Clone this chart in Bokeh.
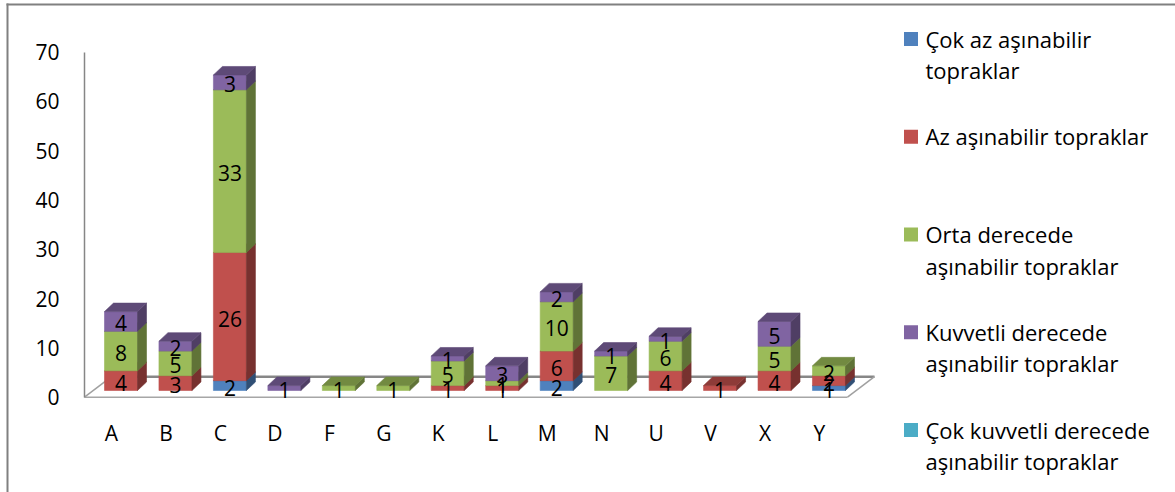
from bokeh.plotting import figure
from bokeh.models import Range1d, FixedTicker
from bokeh.core.properties import value
from bokeh.embed import file_html
from bokeh.resources import INLINE

# ---- data -------------------------------------------------------------
categories = ["A", "B", "C", "D", "F", "G", "K", "L", "M", "N", "U", "V", "X", "Y"]

cok_az = [0, 0, 2, 0, 0, 0, 0, 0, 2, 0, 0, 0, 0, 1]
az = [4, 3, 26, 0, 0, 0, 1, 1, 6, 0, 4, 1, 4, 2]
orta = [8, 5, 33, 0, 1, 1, 5, 1, 10, 7, 6, 0, 5, 2]
kuvvetli = [4, 2, 3, 1, 0, 0, 1, 3, 2, 1, 1, 0, 5, 0]
cok_kuvvetli = [0, 0, 0, 0, 0, 0, 0, 0, 0, 0, 0, 0, 0, 0]

series_labels = [
    "Çok az aşınabilir\ntopraklar",
    "Az aşınabilir topraklar",
    "Orta derecede\naşınabilir topraklar",
    "Kuvvetli derecede\naşınabilir topraklar",
    "Çok kuvvetli derecede\naşınabilir topraklar",
]
series_colors = ["#4F81BD", "#C0504D", "#9BBB59", "#8064A2", "#4BACC6"]
y_ticks = [0, 10, 20, 30, 40, 50, 60, 70]

series = [cok_az, az, orta, kuvvetli, cok_kuvvetli]

# ---- canvas / scale setup --------------------------------------------
W, H = 1175, 492
PX_PER_CAT = 54.46        # px between category centres
CAT0_PX = 120.5           # px of first bar centre
PX_PER_UNIT = 4.93        # px per value unit
ZERO_PX = 396.7           # px of value 0 on the axis


def sx(px):
    """screen x (px) -> data x"""
    return (px - CAT0_PX) / PX_PER_CAT


def sy(px):
    """screen y (px, from top) -> data y"""
    return (ZERO_PX - px) / PX_PER_UNIT


FONT = "Open Sans"

p = figure(
    width=W, height=H,
    output_backend="svg", toolbar_location=None, title=None,
    x_range=Range1d(sx(0), sx(W)),
    y_range=Range1d(sy(H), sy(0)),
    x_axis_location=None,
    min_border_left=0, min_border_right=0,
    min_border_top=0, min_border_bottom=0,
)
p.outline_line_color = None
p.xgrid.visible = False
p.ygrid.visible = False
p.background_fill_color = "white"
p.border_fill_color = "white"

# ---- 3D geometry (data units) ----------------------------------------
BAR_W = 33 / PX_PER_CAT
DEPTH_X = 9 / PX_PER_CAT
DEPTH_Y = 8.5 / PX_PER_UNIT
BAR_BASE = (ZERO_PX - 390) / PX_PER_UNIT

FLOOR_L = sx(84)
FLOOR_R = sx(847)
FLOOR_DX = 27 / PX_PER_CAT
FLOOR_DY = 20.5 / PX_PER_UNIT

# value axis, pinned to the front-left corner of the floor
yax = p.yaxis[0]
yax.fixed_location = FLOOR_L
yax.bounds = (y_ticks[0], y_ticks[-1])
yax.ticker = FixedTicker(ticks=y_ticks)
yax.major_tick_out = 0
yax.major_tick_in = 0
yax.minor_tick_out = 0
yax.minor_tick_in = 0
yax.axis_line_color = "#868686"
yax.axis_line_width = 1.5
yax.major_label_standoff = 25
yax.major_label_text_font = FONT
yax.major_label_text_font_size = "21px"
yax.major_label_text_color = "#000000"

# outer chart border (top and left)
p.line([sx(6), sx(W)], [sy(4), sy(4)], line_color="#808080", line_width=2)
p.line([sx(7), sx(7)], [sy(3), sy(H)], line_color="#808080", line_width=2)

# floor: back edge, side edges, front edge
p.line([FLOOR_L + FLOOR_DX, FLOOR_R + FLOOR_DX], [FLOOR_DY, FLOOR_DY],
       line_color="#878787", line_width=2.5)
p.line([FLOOR_L, FLOOR_L + FLOOR_DX], [0, FLOOR_DY], line_color="#a0a0a0", line_width=1.5)
p.line([FLOOR_R, FLOOR_R + FLOOR_DX], [0, FLOOR_DY], line_color="#a0a0a0", line_width=1.5)
p.line([FLOOR_L, FLOOR_R], [0, 0], line_color="#a6a6a6", line_width=1.5)


def shade(hex_color, f):
    h = hex_color.lstrip("#")
    r, g, b = (int(h[k:k + 2], 16) for k in (0, 2, 4))
    return "#%02x%02x%02x" % (int(r * f), int(g * f), int(b * f))


xs, ys, fills = [], [], []
lab_x, lab_y, lab_t = [], [], []
for i in range(len(categories)):
    cum = 0
    x0, x1 = i - BAR_W / 2, i + BAR_W / 2
    for s, vals in enumerate(series):
        v = vals[i]
        if v == 0:
            continue
        y0 = BAR_BASE + cum
        y1 = y0 + v
        col = series_colors[s]
        # front face
        xs.append([x0, x1, x1, x0]); ys.append([y0, y0, y1, y1]); fills.append(col)
        # right side face
        xs.append([x1, x1 + DEPTH_X, x1 + DEPTH_X, x1])
        ys.append([y0, y0 + DEPTH_Y, y1 + DEPTH_Y, y1]); fills.append(shade(col, 0.62))
        # top face
        xs.append([x0, x1, x1 + DEPTH_X, x0 + DEPTH_X])
        ys.append([y1, y1, y1 + DEPTH_Y, y1 + DEPTH_Y]); fills.append(shade(col, 0.74))
        lab_x.append(i); lab_y.append(y0 + v / 2); lab_t.append(str(v))
        cum += v

p.patches(xs, ys, fill_color=fills, line_color=fills, line_width=0.6)

# value labels on the segments
p.text(lab_x, lab_y, text=lab_t, text_align="center", text_baseline="middle",
       y_offset=2, text_font=value(FONT), text_font_size="21px", text_color="#000000")

# category labels
p.text([i - 9.5 / PX_PER_CAT for i in range(len(categories))],
       [sy(432)] * len(categories), text=categories,
       text_align="center", text_baseline="middle",
       text_font=value(FONT), text_font_size="21px", text_color="#000000")

# ---- legend ----------------------------------------------------------
LEG_SQ_X0, LEG_SQ_X1 = 903.5, 917.5
LEG_SQ_Y0 = 38.5          # centre of the first swatch
LEG_TEXT_X = 925
LEG_TEXT_Y0 = 38          # middle of the first text line
LEG_STEP = 97.75
LEG_LINE_GAP = 31.5

sq_x, sq_y, line_x, line_y, line_t = [], [], [], [], []
for k, label in enumerate(series_labels):
    sq_x.append(sx((LEG_SQ_X0 + LEG_SQ_X1) / 2))
    sq_y.append(sy(LEG_SQ_Y0 + k * LEG_STEP))
    for j, part in enumerate(label.split("\n")):
        line_x.append(sx(LEG_TEXT_X))
        line_y.append(sy(LEG_TEXT_Y0 + k * LEG_STEP + j * LEG_LINE_GAP))
        line_t.append(part)

p.rect(sq_x, sq_y, width=(LEG_SQ_X1 - LEG_SQ_X0) / PX_PER_CAT,
       height=14 / PX_PER_UNIT, fill_color=series_colors, line_color=None)
p.text(line_x, line_y, text=line_t, text_align="left", text_baseline="middle",
       text_font=value(FONT), text_font_size="22px", text_color="#000000")

open("out.html", "w").write(file_html(p, INLINE))
